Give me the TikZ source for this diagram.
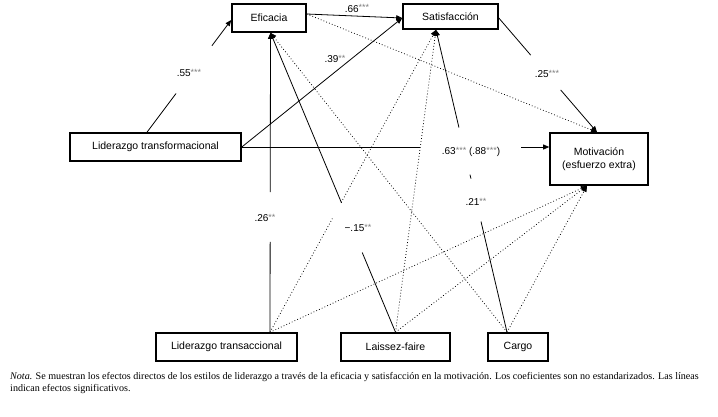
\documentclass[tikz,border=0pt]{standalone}
\usepackage{fontspec}
\setmainfont{Liberation Sans}
\newfontfamily\capfont{Liberation Serif}
\usetikzlibrary{arrows.meta,calc}
\newcommand\stars[1]{\raisebox{1.2pt}{\fontsize{9}{10}\selectfont\textcolor{gray}{#1}}}
\begin{document}
\begin{tikzpicture}[x=1pt,y=-1pt,
  box/.style={draw,line width=1.6pt,inner sep=0pt,font=\fontsize{10.5}{13}\selectfont},
  lbl/.style={inner sep=0pt,font=\fontsize{10}{12}\selectfont},
  conn/.style={line width=0.8pt},
  arr/.style={-{Triangle[length=6pt,width=5pt]}},
  dotln/.style={line width=0.75pt,dash pattern=on 0.8pt off 2.2pt}]
\useasboundingbox (0,0) rectangle (718,416);
\node[box,minimum width=74pt,minimum height=28pt] (ef) at (269,18) {Eficacia};
\node[box,minimum width=95pt,minimum height=25pt] (sat) at (450.5,16.5) {Satisfacción};
\node[box,minimum width=171pt,minimum height=28pt] (lt) at (155.5,147) {Liderazgo transformacional};
\node[box,minimum width=98pt,minimum height=52pt,align=center] (mot) at (599,159) {Motivación\\(esfuerzo extra)};
\node[box,minimum width=141pt,minimum height=28pt] (tr) at (226.5,347) {Liderazgo transaccional};
\node[box,minimum width=109pt,minimum height=28pt] (lf) at (395.5,347) {Laissez-faire};
\node[box,minimum width=60pt,minimum height=28pt] (cg) at (518,347) {Cargo};
% anchor points
\coordinate (efB) at ($(ef.south)+(1.5,0)$);
\coordinate (efL) at ($(ef.west)+(0,2)$);
\coordinate (efR) at ($(ef.east)+(0,-4)$);
\coordinate (satL) at ($(sat.west)+(0,1.5)$);
\coordinate (satB) at ($(sat.south)+(-14.5,0)$);
\coordinate (satR) at ($(sat.east)+(0,1.5)$);
\coordinate (motT) at ($(mot.north)+(-2,0)$);
\coordinate (motL) at ($(mot.west)+(0,-12)$);
\coordinate (motB) at ($(mot.south)+(-12,0)$);
\coordinate (ltT) at ($(lt.north)+(-8.5,0)$);
\coordinate (ltR) at (lt.east);
\coordinate (trT) at ($(tr.north)+(43.5,0)$);
\coordinate (lfT) at (lf.north);
\coordinate (cgT) at ($(cg.north)+(-11,0)$);
% solid paths
\draw[conn] (ltT) -- ($(ltT)!0.345!(efL)$);
\draw[conn,arr] ($(ltT)!0.77!(efL)$) -- (efL);
\node[lbl] (l55) at (189,73) {.55\stars{***}};
\draw[conn,arr] (efR) -- (satL);
\node[lbl] (l66) at (357,8.5) {.66\stars{***}};
\draw[conn,arr] (ltR) -- (satL);
\node[lbl] (l39) at (335,59) {.39\stars{**}};
\draw[conn] (satR) -- ($(satR)!0.325!(motT)$);
\draw[conn,arr] ($(satR)!0.63!(motT)$) -- (motT);
\node[lbl] (l25) at (547,74) {.25\stars{***}};
\draw[conn] (ltR) -- ($(ltR)!0.579!(motL)$);
\draw[conn,arr] ($(ltR)!0.909!(motL)$) -- (motL);
\node[lbl] (l63) at (471,152) {.63\stars{***} (.88\stars{***})};
\draw[conn] (trT) -- ($(trT)!0.302!(efB)$);
\draw[conn,arr] ($(trT)!0.468!(efB)$) -- (efB);
\node[lbl] (l26) at (265,218) {.26\stars{**}};
\draw[conn] (lfT) -- ($(lfT)!0.266!(efB)$);
\draw[conn,arr] ($(lfT)!0.432!(efB)$) -- (efB);
\node[lbl] (l15) at (358,228) {−.15\stars{**}};
\draw[conn] (cgT) -- ($(cgT)!0.366!(satB)$);
\draw[conn] ($(cgT)!0.508!(satB)$) -- ($(cgT)!0.521!(satB)$);
\draw[conn,arr] ($(cgT)!0.677!(satB)$) -- (satB);
\node[lbl] (l21) at (476,202) {.21\stars{**}};
% dotted paths
\draw[dotln,arr] (efR) -- (motT);
\draw[dotln,arr] (cgT) -- (efB);
\draw[dotln] (trT) -- ($(trT)!0.376!(satB)$);
\draw[dotln,arr] ($(trT)!0.429!(satB)$) -- (satB);
\draw[dotln,arr] (lfT) -- (satB);
\draw[dotln,arr] (trT) -- (motB);
\draw[dotln,arr] (lfT) -- (motB);
\draw[dotln,arr] (cgT) -- (motB);
% caption
\node[anchor=north west,inner sep=0pt,align=left,font=\capfont\fontsize{10.1}{12}\selectfont] (cap) at (10,372)
  {\textit{Nota.} Se muestran los efectos directos de los estilos de liderazgo a través de la eficacia y satisfacción en la motivación. Los coeficientes son no estandarizados. Las líneas\\indican efectos significativos.};
\end{tikzpicture}
\end{document}
